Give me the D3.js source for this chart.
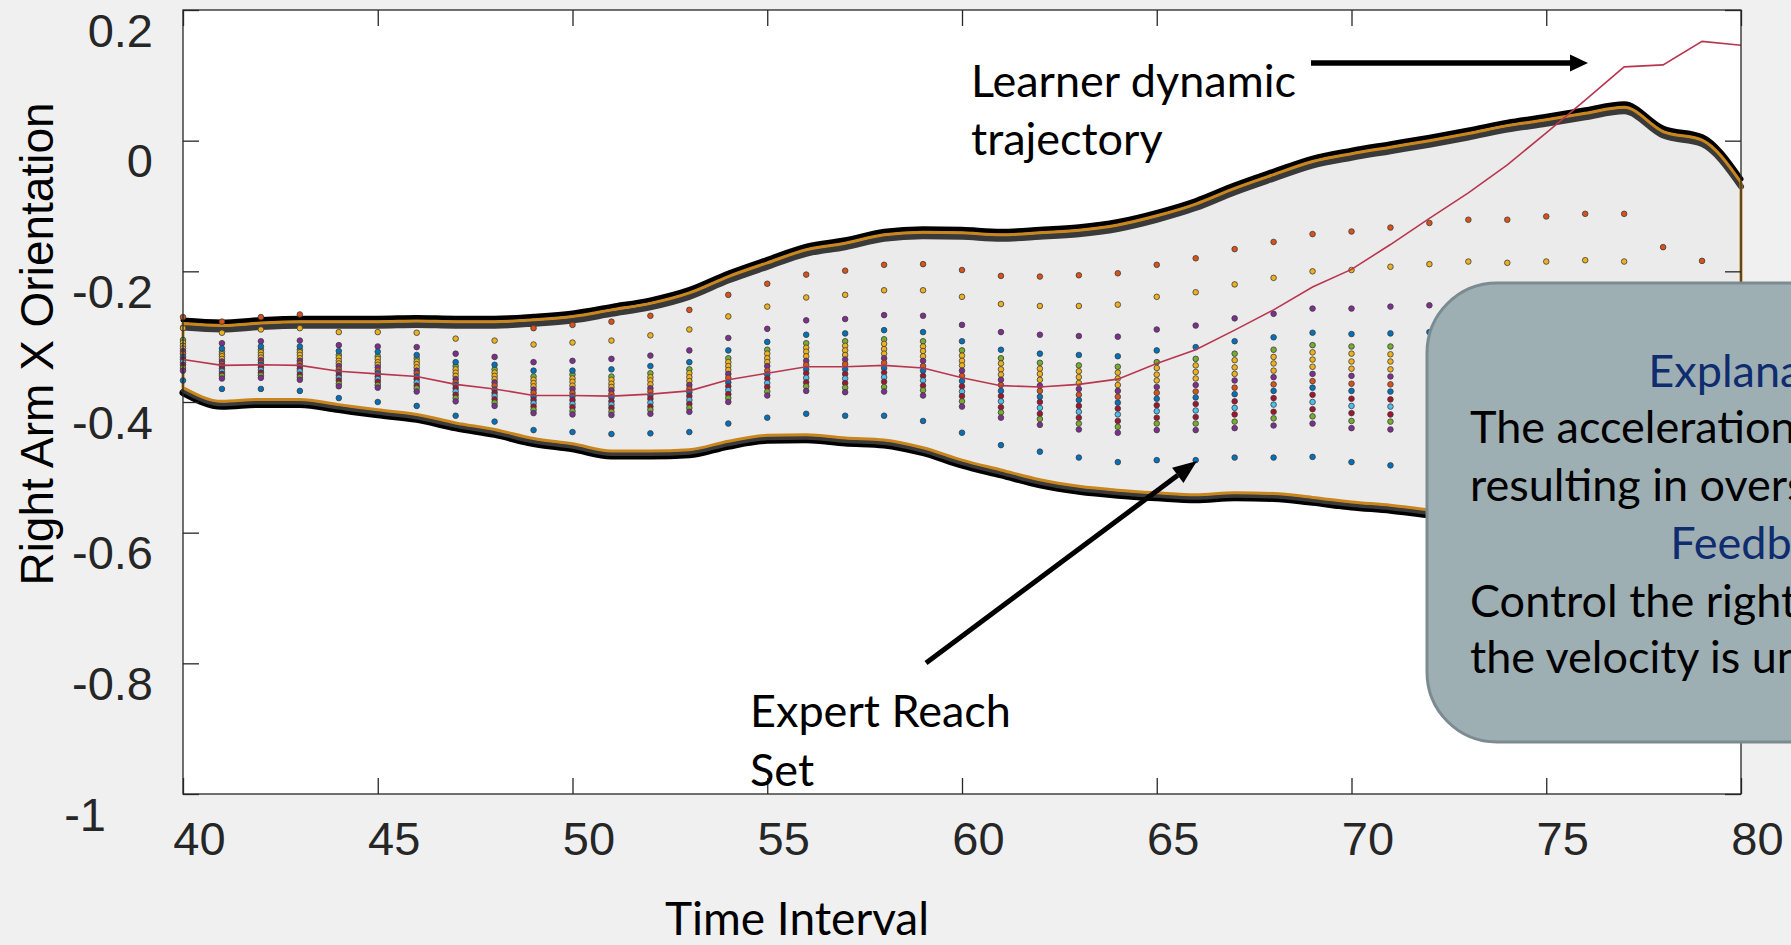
<!DOCTYPE html>
<html>
<head>
<meta charset="utf-8">
<script src="https://cdn.jsdelivr.net/npm/d3@7"></script>
<style>
  html, body { margin: 0; padding: 0; background: #f0f0f0; overflow: hidden; }
  svg { display: block; }
</style>
</head>
<body>
<svg id="chart" width="1791" height="945"></svg>
<script>
// Time steps (x axis)
const timeSteps = [40,41,42,43,44,45,46,47,48,49,50,51,52,53,54,55,56,57,58,59,60,
                   61,62,63,64,65,66,67,68,69,70,71,72,73,74,75,76,77,78,79,80];

// Learner dynamic trajectory
const learner = [-0.335,-0.344,-0.343,-0.344,-0.353,-0.357,-0.361,-0.373,-0.380,-0.390,
                 -0.390,-0.391,-0.388,-0.383,-0.366,-0.356,-0.346,-0.346,-0.344,-0.348,
                 -0.363,-0.375,-0.377,-0.373,-0.365,-0.341,-0.320,-0.290,-0.259,-0.224,
                 -0.197,-0.159,-0.119,-0.080,-0.037,0.012,0.062,0.113,0.116,0.152,0.146];

// Expert reach set boundary
const reachUpper = [-0.280,-0.283,-0.279,-0.277,-0.277,-0.277,-0.276,-0.277,-0.277,-0.274,
                    -0.269,-0.259,-0.249,-0.233,-0.208,-0.187,-0.167,-0.157,-0.144,-0.140,
                    -0.141,-0.144,-0.141,-0.137,-0.129,-0.115,-0.097,-0.073,-0.052,-0.032,
                    -0.020,-0.010,0.000,0.011,0.023,0.032,0.042,0.051,0.014,0.001,-0.064];
const reachLower = [-0.378,-0.399,-0.396,-0.396,-0.404,-0.412,-0.419,-0.432,-0.442,-0.456,
                    -0.464,-0.475,-0.475,-0.473,-0.460,-0.451,-0.450,-0.455,-0.458,-0.470,
                    -0.489,-0.504,-0.519,-0.529,-0.535,-0.539,-0.542,-0.539,-0.540,-0.546,
                    -0.553,-0.558,-0.565,-0.570,-0.574,-0.578,-0.582,-0.586,-0.590,-0.594,-0.598];

// Reach set samples: outlying points per time step (null = none)
const topOrange = [-0.270,-0.277,-0.270,-0.266,null,null,null,null,null,-0.287,
                   -0.282,-0.277,-0.268,-0.259,-0.236,-0.219,-0.205,-0.199,-0.190,-0.189,
                   -0.198,-0.207,-0.208,-0.206,-0.203,-0.190,-0.180,-0.166,-0.155,-0.143,
                   -0.139,-0.133,-0.126,-0.121,-0.121,-0.116,-0.112,-0.112,-0.163,-0.184,null];
const topYellow = [-0.287,-0.294,-0.289,-0.287,-0.293,-0.293,-0.294,-0.303,-0.306,-0.312,
                   -0.309,-0.306,-0.298,-0.289,-0.269,-0.254,-0.240,-0.236,-0.229,-0.229,
                   -0.239,-0.250,-0.253,-0.253,-0.251,-0.239,-0.232,-0.220,-0.210,-0.200,
                   -0.198,-0.193,-0.189,-0.185,-0.187,-0.185,-0.183,-0.185,null,null,null];
const topPurple = [null,-0.310,-0.307,-0.306,-0.313,-0.315,-0.316,-0.326,-0.331,-0.339,
                   -0.337,-0.334,-0.329,-0.321,-0.302,-0.288,-0.275,-0.273,-0.267,-0.268,
                   -0.282,-0.293,-0.297,-0.299,-0.300,-0.289,-0.283,-0.272,-0.265,-0.257,
                   -0.257,-0.254,-0.252,null,null,null,null,null,null,null,null];
const topBlue = [null,-0.318,-0.315,-0.315,-0.322,-0.323,-0.328,-0.339,-0.343,-0.352,
                 -0.352,-0.350,-0.345,-0.339,-0.321,-0.308,-0.297,-0.295,-0.290,-0.293,
                 -0.307,-0.320,-0.326,-0.328,-0.330,-0.321,-0.316,-0.307,-0.301,-0.294,
                 -0.296,-0.295,-0.293,null,null,null,null,null,null,null,null];
const bottomBlue = [-0.367,-0.380,-0.380,-0.383,-0.394,-0.400,-0.406,-0.421,-0.430,-0.443,
                    -0.446,-0.449,-0.448,-0.446,-0.433,-0.424,-0.418,-0.421,-0.421,-0.429,
                    -0.447,-0.466,-0.476,-0.485,-0.492,-0.489,-0.489,-0.485,-0.485,-0.484,
                    -0.492,-0.497,null,null,null,null,null,null,null,null,null];

// Dense sample stacks, one row per time step from 40 to 71
const clusters = [
  [-0.305,-0.309,-0.314,-0.318,-0.322,-0.326,-0.331,-0.335,-0.339,-0.343,-0.348,-0.352],
  [-0.323,-0.327,-0.330,-0.334,-0.338,-0.342,-0.345,-0.349,-0.353,-0.357,-0.360,-0.364],
  [-0.320,-0.324,-0.328,-0.332,-0.336,-0.340,-0.343,-0.347,-0.351,-0.355,-0.359,-0.363],
  [-0.320,-0.324,-0.328,-0.333,-0.337,-0.341,-0.345,-0.349,-0.353,-0.358,-0.362,-0.366],
  [-0.328,-0.332,-0.337,-0.341,-0.345,-0.350,-0.354,-0.359,-0.363,-0.367,-0.372,-0.376],
  [-0.330,-0.334,-0.339,-0.343,-0.347,-0.352,-0.356,-0.361,-0.365,-0.369,-0.374,-0.378],
  [-0.333,-0.338,-0.342,-0.347,-0.352,-0.356,-0.361,-0.365,-0.370,-0.375,-0.379,-0.384],
  [-0.345,-0.350,-0.355,-0.360,-0.365,-0.370,-0.374,-0.379,-0.384,-0.389,-0.394,-0.399],
  [-0.350,-0.355,-0.360,-0.365,-0.370,-0.375,-0.381,-0.386,-0.391,-0.396,-0.401,-0.406],
  [-0.361,-0.366,-0.371,-0.376,-0.381,-0.386,-0.392,-0.397,-0.402,-0.407,-0.412,-0.417],
  [-0.358,-0.364,-0.369,-0.375,-0.380,-0.386,-0.391,-0.397,-0.403,-0.408,-0.414,-0.419],
  [-0.361,-0.366,-0.372,-0.377,-0.382,-0.388,-0.393,-0.399,-0.404,-0.409,-0.415,-0.420],
  [-0.356,-0.362,-0.367,-0.373,-0.379,-0.384,-0.390,-0.395,-0.401,-0.407,-0.412,-0.418],
  [-0.350,-0.356,-0.362,-0.368,-0.374,-0.380,-0.385,-0.391,-0.397,-0.403,-0.409,-0.415],
  [-0.333,-0.339,-0.345,-0.351,-0.357,-0.363,-0.370,-0.376,-0.382,-0.388,-0.394,-0.400],
  [-0.320,-0.326,-0.333,-0.339,-0.345,-0.352,-0.358,-0.364,-0.371,-0.377,-0.384,-0.390],
  [-0.310,-0.317,-0.323,-0.330,-0.337,-0.343,-0.350,-0.356,-0.363,-0.370,-0.376,-0.383],
  [-0.307,-0.314,-0.321,-0.328,-0.335,-0.342,-0.350,-0.357,-0.364,-0.371,-0.378,-0.385],
  [-0.304,-0.311,-0.319,-0.326,-0.333,-0.340,-0.348,-0.355,-0.362,-0.369,-0.377,-0.384],
  [-0.307,-0.315,-0.322,-0.330,-0.337,-0.345,-0.352,-0.360,-0.367,-0.375,-0.382,-0.390],
  [-0.321,-0.329,-0.337,-0.344,-0.352,-0.360,-0.368,-0.376,-0.384,-0.391,-0.399,-0.407],
  [-0.333,-0.341,-0.350,-0.358,-0.366,-0.374,-0.383,-0.391,-0.399,-0.408,-0.416,-0.424],
  [-0.340,-0.349,-0.357,-0.366,-0.375,-0.383,-0.392,-0.400,-0.409,-0.418,-0.426,-0.435],
  [-0.344,-0.353,-0.362,-0.371,-0.380,-0.389,-0.397,-0.406,-0.415,-0.424,-0.433,-0.442],
  [-0.346,-0.355,-0.364,-0.374,-0.383,-0.392,-0.401,-0.410,-0.419,-0.429,-0.438,-0.447],
  [-0.339,-0.348,-0.358,-0.367,-0.377,-0.386,-0.395,-0.405,-0.414,-0.424,-0.433,-0.443],
  [-0.334,-0.344,-0.354,-0.364,-0.374,-0.384,-0.393,-0.403,-0.413,-0.423,-0.433,-0.443],
  [-0.326,-0.336,-0.347,-0.357,-0.367,-0.378,-0.388,-0.399,-0.409,-0.419,-0.430,-0.440],
  [-0.320,-0.331,-0.341,-0.352,-0.362,-0.373,-0.383,-0.394,-0.404,-0.415,-0.425,-0.436],
  [-0.313,-0.324,-0.335,-0.346,-0.357,-0.368,-0.378,-0.389,-0.400,-0.411,-0.422,-0.433],
  [-0.315,-0.326,-0.338,-0.349,-0.360,-0.372,-0.383,-0.395,-0.406,-0.417,-0.429,-0.440],
  [-0.315,-0.327,-0.338,-0.350,-0.361,-0.373,-0.384,-0.396,-0.407,-0.419,-0.430,-0.442]
];
const clusterColors = ["green","yellow","yellow","yellow","purple","orange",
                       "blue","red","lightblue","red","green","purple"];

const xTicks = [40,45,50,55,60,65,70,75,80];
const yTicks = [0.2,0,-0.2,-0.4,-0.6,-0.8,-1];

const palette = {
  blue: "#0072BD", orange: "#D95319", yellow: "#EDB120", purple: "#7E2F8E",
  green: "#77AC30", lightblue: "#4DBEEE", red: "#A2142F"
};

const W = 1791, H = 945;
const svg = d3.select("#chart");
svg.append("rect").attr("width", W).attr("height", H).attr("fill", "#f0f0f0");

const x = d3.scaleLinear().domain([40, 80]).range([183, 1741]);
const y = d3.scaleLinear().domain([-1, 0.2]).range([794, 10]);

// plot background
svg.append("rect")
  .attr("x", x(40)).attr("y", y(0.2))
  .attr("width", x(80) - x(40)).attr("height", y(-1) - y(0.2))
  .attr("fill", "#ffffff");

const plot = svg.append("g");

// reach set envelope
const env = timeSteps.map((t, i) => ({t, up: reachUpper[i], lo: reachLower[i]}));
const area = d3.area()
  .x(d => x(d.t)).y0(d => y(d.lo)).y1(d => y(d.up))
  .curve(d3.curveMonotoneX);
plot.append("path").datum(env).attr("d", area).attr("fill", "#ebebeb");

const upLine = d3.line().x(d => x(d.t)).y(d => y(d.up)).curve(d3.curveMonotoneX);
const loLine = d3.line().x(d => x(d.t)).y(d => y(d.lo)).curve(d3.curveMonotoneX);

function band(gen, dy, w, color) {
  plot.append("path").datum(env)
    .attr("d", gen)
    .attr("transform", `translate(0,${dy})`)
    .attr("fill", "none")
    .attr("stroke", color)
    .attr("stroke-width", w)
    .attr("stroke-linejoin", "round")
    .attr("stroke-linecap", "round");
}
band(upLine, -3.5, 5, "#000");
band(upLine, 4, 6, "#3a3a3a");
band(loLine, 5, 7, "#000");
band(loLine, 3, 4, "#3a3a3a");

plot.append("path").datum(env)
  .attr("d", area)
  .attr("fill", "none")
  .attr("stroke", "#c8861c")
  .attr("stroke-width", 3)
  .attr("stroke-linejoin", "round");

// sample points
const clusterPts = clusters.flatMap((col, i) =>
  col.map((v, j) => ({t: timeSteps[i], v, c: palette[clusterColors[j]]})));
const outliers = [
  [topOrange, palette.orange], [topYellow, palette.yellow], [topPurple, palette.purple],
  [topBlue, palette.blue], [bottomBlue, palette.blue]
].flatMap(([arr, c]) => timeSteps.map((t, i) => ({t, v: arr[i], c})).filter(d => d.v !== null));

plot.selectAll("circle.pt")
  .data(clusterPts.concat(outliers))
  .join("circle")
  .attr("class", "pt")
  .attr("cx", d => x(d.t))
  .attr("cy", d => y(d.v))
  .attr("r", 2.8)
  .attr("fill", d => d.c)
  .attr("stroke", "#3c3c3c")
  .attr("stroke-width", 0.8);

// learner trajectory
const lrn = timeSteps.map((t, i) => ({t, v: learner[i]}));
plot.append("path").datum(lrn)
  .attr("d", d3.line().x(d => x(d.t)).y(d => y(d.v)))
  .attr("fill", "none")
  .attr("stroke", "#b8364f")
  .attr("stroke-width", 1.6);

// axes
const tickFont = "'Liberation Sans', Arial, sans-serif";
const axisColor = "#262626";

const gxB = svg.append("g").attr("transform", `translate(0,${y(-1)})`)
  .call(d3.axisBottom(x).tickValues(xTicks).tickSize(-16).tickPadding(28).tickFormat(d => String(d)));
const gxT = svg.append("g").attr("transform", `translate(0,${y(0.2)})`)
  .call(d3.axisTop(x).tickValues(xTicks).tickSize(-16).tickFormat(""));
const gyL = svg.append("g").attr("transform", `translate(${x(40)},0)`)
  .call(d3.axisLeft(y).tickValues(yTicks).tickSize(-16).tickPadding(30).tickFormat(d => String(d)));
const gyR = svg.append("g").attr("transform", `translate(${x(80)},0)`)
  .call(d3.axisRight(y).tickValues(yTicks).tickSize(-16).tickFormat(""));

[gxB, gxT, gyL, gyR].forEach(g => {
  g.attr("color", axisColor).attr("font-family", tickFont).attr("font-size", 47);
  g.select(".domain").remove();
  g.selectAll("line").attr("stroke-width", 1.3);
});
gxB.selectAll("text").attr("dx", 16);
gyL.selectAll("text").attr("dy", 36);
gyL.selectAll("text").filter(d => d === -1).attr("dx", -47);

svg.append("rect")
  .attr("x", x(40)).attr("y", y(0.2))
  .attr("width", x(80) - x(40)).attr("height", y(-1) - y(0.2))
  .attr("fill", "none").attr("stroke", axisColor).attr("stroke-width", 1.3);

// axis titles
svg.append("text")
  .attr("transform", `translate(53,${(y(0.2) + y(-1)) / 2 - 58}) rotate(-90)`)
  .attr("text-anchor", "middle")
  .attr("font-family", tickFont)
  .attr("font-size", 46)
  .attr("fill", "#000")
  .text("Right Arm X Orientation");

const humanist = "Lato, 'Open Sans', sans-serif";
svg.append("text")
  .attr("x", 797).attr("y", 935)
  .attr("text-anchor", "middle")
  .attr("font-family", humanist)
  .attr("font-size", 46)
  .attr("fill", "#000")
  .text("Time Interval");

// annotations
const ann = svg.append("g").attr("font-family", humanist).attr("font-size", 45).attr("fill", "#000");
ann.append("text").attr("x", 971).attr("y", 97).text("Learner dynamic");
ann.append("text").attr("x", 971).attr("y", 155).text("trajectory");
ann.append("text").attr("x", 750).attr("y", 727).text("Expert Reach");
ann.append("text").attr("x", 750).attr("y", 786).text("Set");

function arrow(g, x1, y1, x2, y2, w, hl, hw) {
  const a = Math.atan2(y2 - y1, x2 - x1);
  const bx = x2 - hl * Math.cos(a), by = y2 - hl * Math.sin(a);
  g.append("line")
    .attr("x1", x1).attr("y1", y1).attr("x2", bx).attr("y2", by)
    .attr("stroke", "#000").attr("stroke-width", w);
  const px = -Math.sin(a) * hw / 2, py = Math.cos(a) * hw / 2;
  g.append("path")
    .attr("d", `M${x2},${y2}L${bx + px},${by + py}L${bx - px},${by - py}Z`)
    .attr("fill", "#000");
}
arrow(ann, 1311, 63, 1588, 63, 5.5, 18, 17);
arrow(ann, 926, 663, 1197, 461, 5, 24, 19);

// callout box (runs past the right edge of the figure, as in the original slide)
const callout = svg.append("g").attr("font-family", humanist).attr("font-size", 45);
callout.append("rect")
  .attr("x", 1427).attr("y", 283).attr("width", 600).attr("height", 459).attr("rx", 70)
  .attr("fill", "#9eafb4").attr("stroke", "#7b8b91").attr("stroke-width", 3);
const navy = "#0f2c6e";
callout.append("text").attr("x", 1770).attr("y", 387).attr("text-anchor", "middle").attr("fill", navy).text("Explanation:");
callout.append("text").attr("x", 1470).attr("y", 443).attr("fill", "#000").text("The acceleration of the right arm is too high,");
callout.append("text").attr("x", 1470).attr("y", 501).attr("fill", "#000").text("resulting in overshoot.");
callout.append("text").attr("x", 1770).attr("y", 559).attr("text-anchor", "middle").attr("fill", navy).text("Feedback:");
callout.append("text").attr("x", 1470).attr("y", 617).attr("fill", "#000").text("Control the right arm so that");
callout.append("text").attr("x", 1470).attr("y", 673).attr("fill", "#000").text("the velocity is under control.");
</script>
</body>
</html>
